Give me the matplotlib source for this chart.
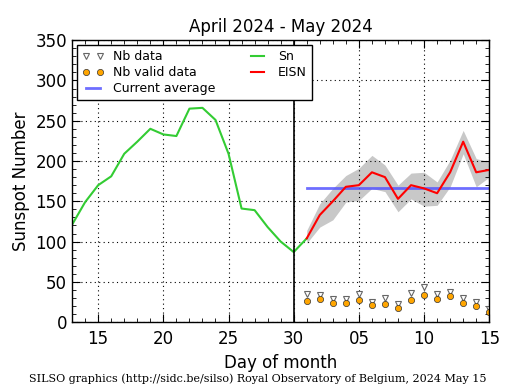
import numpy as np
import matplotlib
matplotlib.use('Agg')
import matplotlib.pyplot as plt
from matplotlib.ticker import MultipleLocator, FixedLocator

# Day index: April days as 13..30, May days as 31..45
sn_days = [13, 14, 15, 16, 17, 18, 19, 20, 21, 22, 23, 24, 25, 26, 27, 28, 29, 30, 31]
sn_values = [121, 149, 170, 181, 209, 224, 240, 233, 231, 265, 266, 251, 209, 141, 139, 118, 100, 87, 104]

may_days = [31, 32, 33, 34, 35, 36, 37, 38, 39, 40, 41, 42, 43, 44, 45]
eisn_values = [104, 133, 150, 168, 170, 186, 180, 153, 170, 166, 160, 186, 224, 186, 189]
eisn_upper = [114, 147, 166, 182, 191, 207, 195, 170, 185, 186, 174, 201, 238, 203, 199]
eisn_lower = [98, 118, 127, 149, 151, 166, 162, 137, 153, 144, 145, 168, 209, 168, 180]
nb_data = [35, 34, 29, 29, 35, 25, 30, 23, 36, 43, 35, 38, 30, 25, 16]
nb_valid = [26, 29, 24, 24, 27, 21, 23, 18, 28, 34, 29, 32, 24, 20, 12]
current_average = 167

tick_pos = [15, 20, 25, 30, 35, 40, 45]
tick_labels = ['15', '20', '25', '30', '05', '10', '15']

fig = plt.figure(figsize=(5.15, 3.9), dpi=100)
ax = fig.add_axes([0.140, 0.174, 0.810, 0.723])

# Uncertainty band and main series
ax.fill_between(may_days, eisn_lower, eisn_upper, color='#c8c8c8', linewidth=0)
ax.plot(may_days, nb_data, linestyle='none', marker='v', markersize=4,
        markerfacecolor='white', markeredgecolor='#666666', markeredgewidth=0.8,
        label='Nb data')
ax.plot(may_days, nb_valid, linestyle='none', marker='o', markersize=4.5,
        markerfacecolor='#ffa500', markeredgecolor='#333333', markeredgewidth=0.5,
        label='Nb valid data')
ax.plot([may_days[0], may_days[-1]], [current_average, current_average],
        color='#5555ff', alpha=0.85, linewidth=2, label='Current average')
ax.plot(sn_days, sn_values, color='#33cc33', linewidth=1.5, label='Sn')
ax.plot(may_days, eisn_values, color='red', linewidth=1.5, label='EISN')
ax.axvline(30, color='black', linewidth=1.2)

ax.set_xlim(13, 45)
ax.set_ylim(0, 350)
ax.xaxis.set_major_locator(FixedLocator(tick_pos))
ax.set_xticklabels(tick_labels)
ax.xaxis.set_minor_locator(MultipleLocator(1))
ax.yaxis.set_major_locator(MultipleLocator(50))
ax.yaxis.set_minor_locator(MultipleLocator(10))
ax.tick_params(which='both', direction='in', top=True, right=True, labelsize=12)
ax.tick_params(which='major', length=6)
ax.tick_params(which='minor', length=3)
ax.tick_params(axis='x', pad=6)
ax.grid(True, which='major', color='black', linestyle=(0, (1, 3)), linewidth=0.8)
for s in ax.spines.values():
    s.set_linewidth(1)

ax.set_title('April 2024 - May 2024', fontsize=12)
ax.set_xlabel('Day of month', fontsize=12)
ax.set_ylabel('Sunspot Number', fontsize=12)

leg = ax.legend(loc='upper left', ncol=2, fontsize=9, numpoints=2, fancybox=False,
                framealpha=1, borderaxespad=0.4, handlelength=1.7, columnspacing=2.5,
                labelspacing=0.25)
leg.get_frame().set_edgecolor('black')

fig.text(0.5, 0.02, 'SILSO graphics (http://sidc.be/silso) Royal Observatory of Belgium, 2024 May 15',
         ha='center', fontsize=8, family='DejaVu Serif')

fig.savefig('out.png', dpi=100)
